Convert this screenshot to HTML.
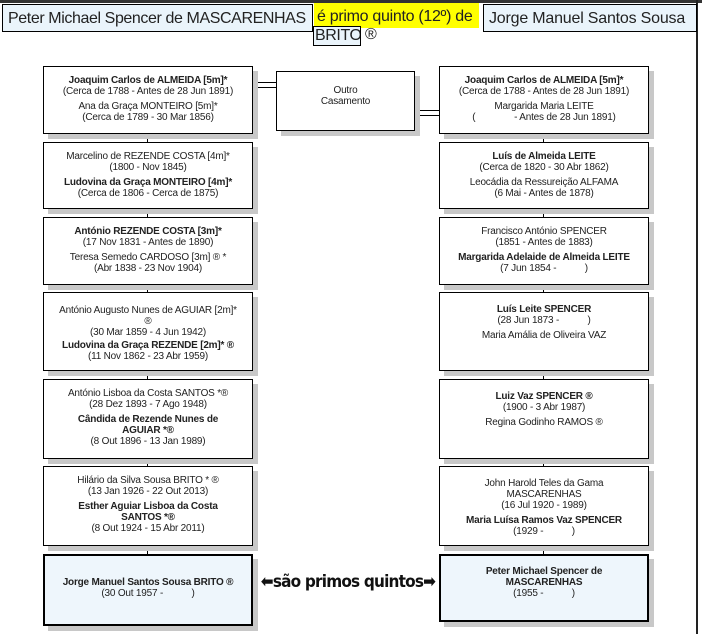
<!DOCTYPE html>
<html><head><meta charset="utf-8"><style>
*{margin:0;padding:0;box-sizing:border-box}
body{width:702px;height:634px;background:#fff;position:relative;overflow:hidden;font-family:"Liberation Sans",sans-serif;color:#222}
.b{position:absolute;border:1px solid #000;background:#fff;box-shadow:5px 5px 0 #c8c8c8;text-align:center;font-size:10px;line-height:11px;letter-spacing:-0.2px;padding-top:8px}
.b b{font-weight:bold}
.g{height:4px}
.l{position:absolute;width:1px;background:#000}
.h{position:absolute;height:1px;background:#000}
.f{border:2px solid #000;background:#eef6fc}
.nw{white-space:nowrap;overflow:hidden}
</style></head><body>
<div style="position:absolute;left:0;top:0;width:702px;height:3px;background:#333"></div>
<div style="position:absolute;left:696px;top:0;width:2px;height:634px;background:#222"></div>
<div class="nw" style="position:absolute;left:2px;top:4px;width:311px;height:28px;border:1px solid #000;background:#eaf4fb;font-size:16px;line-height:27px;padding-left:5px;letter-spacing:-0.4px">Peter Michael Spencer de MASCARENHAS</div>
<div class="nw" style="position:absolute;left:314px;top:3px;width:165px;height:25px;background:#ffff00;font-size:16px;line-height:27px;padding-left:3px;letter-spacing:-0.3px">é primo quinto (12º) de</div>
<div class="nw" style="position:absolute;left:313px;top:26px;width:48px;height:20px;border:1px solid #000;background:#eaf4fb;font-size:16px;line-height:18px;padding-left:1px;letter-spacing:-0.4px">BRITO</div>
<div style="position:absolute;left:365px;top:26px;font-size:16px;line-height:18px">®</div>
<div class="nw" style="position:absolute;left:483px;top:4px;width:214px;height:28px;border:1px solid #000;background:#eaf4fb;font-size:16px;line-height:27px;padding-left:5px;letter-spacing:-0.2px">Jorge Manuel Santos Sousa</div>

<div class="l" style="left:147px;top:134px;height:420px"></div>
<div class="l" style="left:543px;top:134px;height:420px"></div>

<div class="h" style="left:228px;top:82px;width:48px"></div>
<div class="h" style="left:228px;top:87px;width:48px"></div>
<div class="h" style="left:415px;top:110px;width:62px"></div>
<div class="h" style="left:415px;top:115px;width:62px"></div>

<div class="b" style="left:276px;top:71px;width:139px;height:60px;padding-top:13px">Outro<br>Casamento</div>

<div class="b" style="left:43px;top:66px;width:210px;height:68px"><b>Joaquim Carlos de ALMEIDA [5m]*</b><br>(Cerca de 1788 - Antes de 28 Jun 1891)<div class="g"></div>Ana da Graça MONTEIRO [5m]*<br>(Cerca de 1789 - 30 Mar 1856)</div>
<div class="b" style="left:43px;top:142px;width:210px;height:67px">Marcelino de REZENDE COSTA [4m]*<br>(1800 - Nov 1845)<div class="g"></div><b>Ludovina da Graça MONTEIRO [4m]*</b><br>(Cerca de 1806 - Cerca de 1875)</div>
<div class="b" style="left:43px;top:217px;width:210px;height:68px"><b>António REZENDE COSTA [3m]*</b><br>(17 Nov 1831 - Antes de 1890)<div class="g"></div>Teresa Semedo CARDOSO [3m] ® *<br>(Abr 1838 - 23 Nov 1904)</div>
<div class="b" style="left:43px;top:292px;width:210px;height:79px;padding-top:12px">António Augusto Nunes de AGUIAR [2m]*<br>®<br>(30 Mar 1859 - 4 Jun 1942)<div class="g" style="height:2px"></div><b>Ludovina da Graça REZENDE [2m]* ®</b><br>(11 Nov 1862 - 23 Abr 1959)</div>
<div class="b" style="left:43px;top:379px;width:210px;height:80px">António Lisboa da Costa SANTOS *®<br>(28 Dez 1893 - 7 Ago 1948)<div class="g"></div><b>Cândida de Rezende Nunes de<br>AGUIAR *®</b><br>(8 Out 1896 - 13 Jan 1989)</div>
<div class="b" style="left:43px;top:466px;width:210px;height:80px">Hilário da Silva Sousa BRITO * ®<br>(13 Jan 1926 - 22 Out 2013)<div class="g"></div><b>Esther Aguiar Lisboa da Costa<br>SANTOS *®</b><br>(8 Out 1924 - 15 Abr 2011)</div>
<div class="b f" style="left:43px;top:554px;width:210px;height:72px;padding-top:21px"><b>Jorge Manuel Santos Sousa BRITO ®</b><br>(30 Out 1957 - &nbsp; &nbsp; &nbsp; &nbsp; &nbsp; )</div>

<div class="b" style="left:439px;top:66px;width:210px;height:68px"><b>Joaquim Carlos de ALMEIDA [5m]*</b><br>(Cerca de 1788 - Antes de 28 Jun 1891)<div class="g"></div>Margarida Maria LEITE<br>( &nbsp; &nbsp; &nbsp; &nbsp; &nbsp; &nbsp; &nbsp; - Antes de 28 Jun 1891)</div>
<div class="b" style="left:439px;top:142px;width:210px;height:67px"><b>Luís de Almeida LEITE</b><br>(Cerca de 1820 - 30 Abr 1862)<div class="g"></div>Leocádia da Ressureição ALFAMA<br>(6 Mai - Antes de 1878)</div>
<div class="b" style="left:439px;top:217px;width:210px;height:68px">Francisco António SPENCER<br>(1851 - Antes de 1883)<div class="g"></div><b>Margarida Adelaide de Almeida LEITE</b><br>(7 Jun 1854 - &nbsp; &nbsp; &nbsp; &nbsp; &nbsp; )</div>
<div class="b" style="left:439px;top:292px;width:210px;height:79px;padding-top:11px"><b>Luís Leite SPENCER</b><br>(28 Jun 1873 - &nbsp; &nbsp; &nbsp; &nbsp; &nbsp; )<div class="g"></div>Maria Amália de Oliveira VAZ</div>
<div class="b" style="left:439px;top:379px;width:210px;height:80px;padding-top:11px"><b>Luiz Vaz SPENCER ®</b><br>(1900 - 3 Abr 1987)<div class="g"></div>Regina Godinho RAMOS ®</div>
<div class="b" style="left:439px;top:466px;width:210px;height:80px;padding-top:11px">John Harold Teles da Gama<br>MASCARENHAS<br>(16 Jul 1920 - 1989)<div class="g"></div><b>Maria Luísa Ramos Vaz SPENCER</b><br>(1929 - &nbsp; &nbsp; &nbsp; &nbsp; &nbsp; )</div>
<div class="b f" style="left:439px;top:554px;width:210px;height:68px;padding-top:10px"><b>Peter Michael Spencer de<br>MASCARENHAS</b><br>(1955 - &nbsp; &nbsp; &nbsp; &nbsp; &nbsp; )</div>

<div style="position:absolute;left:258px;top:571px;width:180px;text-align:center;white-space:nowrap;font-size:17px;font-weight:bold;letter-spacing:-0.8px;line-height:22px;font-family:'DejaVu Sans Condensed','Liberation Sans',sans-serif;color:#111">⬅são primos quintos➡</div>
</body></html>
